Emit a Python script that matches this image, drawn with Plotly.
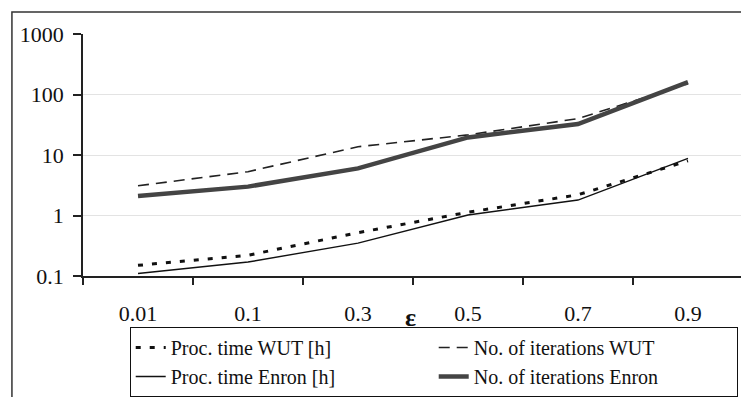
import plotly.graph_objects as go

# ---- data ----
epsilon = ["0.01", "0.1", "0.3", "0.5", "0.7", "0.9"]
proc_time_wut = [0.15, 0.22, 0.52, 1.13, 2.2, 8.0]
iterations_wut = [3.1, 5.3, 13.7, 21.5, 40.0, 150.0]
proc_time_enron = [0.11, 0.17, 0.35, 1.02, 1.8, 8.8]
iterations_enron = [2.1, 3.0, 6.0, 19.5, 32.5, 160.0]

y_tick_vals = [0.1, 1, 10, 100, 1000]
y_tick_text = ["0.1", "1", "10", "100", "1000"]

FONT = "Times New Roman, Liberation Serif, serif"

fig = go.Figure()
fig.add_trace(go.Scatter(
    x=epsilon, y=proc_time_wut, mode="lines", name="Proc. time WUT [h]",
    line=dict(color="#111111", width=3, dash="5px,9px")))
fig.add_trace(go.Scatter(
    x=epsilon, y=iterations_wut, mode="lines", name="No. of iterations WUT",
    line=dict(color="#222222", width=1.6, dash="11px,7px")))
fig.add_trace(go.Scatter(
    x=epsilon, y=proc_time_enron, mode="lines", name="Proc. time Enron [h]",
    line=dict(color="#111111", width=1.4)))
fig.add_trace(go.Scatter(
    x=epsilon, y=iterations_enron, mode="lines", name="No. of iterations Enron",
    line=dict(color="#444444", width=4.5)))

fig.update_layout(
    template="none",
    width=741, height=397,
    margin=dict(l=83, r=0, t=34, b=121, autoexpand=False),
    paper_bgcolor="white", plot_bgcolor="white",
    font=dict(family=FONT, size=22, color="#111111"),
    showlegend=True,
    legend=dict(
        orientation="h", x=0.071, xanchor="left", y=-0.211, yanchor="top",
        bordercolor="#111111", borderwidth=1, bgcolor="rgba(255,255,255,0)",
        font=dict(family=FONT, size=20, color="#111111"),
        entrywidth=258, entrywidthmode="pixels",
        traceorder="normal", tracegroupgap=0,
    ),
    xaxis=dict(
        type="category", range=[-0.5, 5.482], automargin=False,
        showline=True, linecolor="#222222", linewidth=1.5,
        ticks="outside", ticklen=7, tickcolor="#222222", tickwidth=1.5,
        tickson="boundaries", showgrid=False, zeroline=False,
        ticklabelstandoff=17,
        tickfont=dict(family=FONT, size=22, color="#111111"),
    ),
    yaxis=dict(
        type="log", range=[-1, 3], automargin=False,
        tickvals=y_tick_vals, ticktext=y_tick_text,
        showline=True, linecolor="#222222", linewidth=1.5,
        ticks="outside", ticklen=8, tickcolor="#222222", tickwidth=1.5,
        showgrid=True, gridcolor="#e3e3e3", gridwidth=1, zeroline=False,
        ticklabelstandoff=5,
        tickfont=dict(family=FONT, size=22, color="#111111"),
    ),
    shapes=[dict(
        type="rect", xref="paper", yref="paper",
        x0=-0.108, x1=1.05, y0=-0.55, y1=1.091,
        line=dict(color="#333333", width=1.5), fillcolor="rgba(0,0,0,0)",
        layer="below")],
    annotations=[dict(
        text="<b>ε</b>", xref="paper", yref="paper", x=0.497, y=-0.17,
        showarrow=False, xanchor="center", yanchor="middle",
        font=dict(family=FONT, size=26, color="#111111"))],
)

fig.write_html("out.html", config={"displayModeBar": False},
               post_script="document.body.style.margin='0px';")
